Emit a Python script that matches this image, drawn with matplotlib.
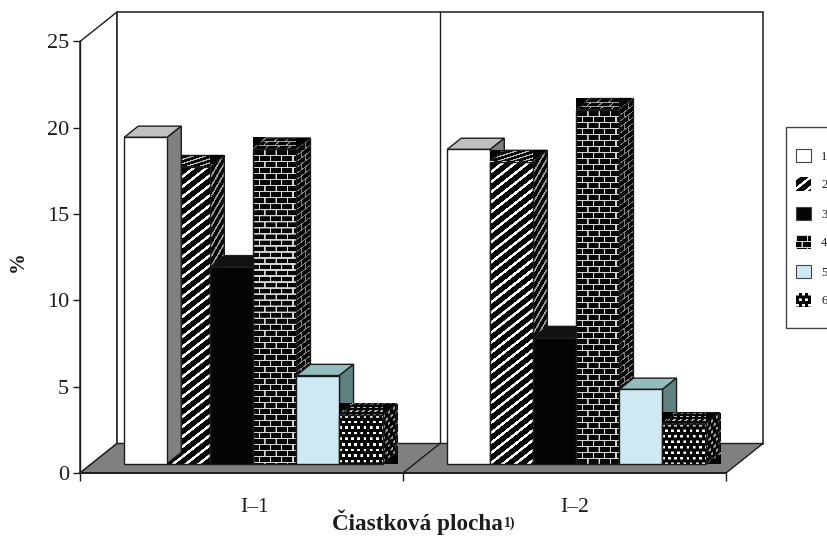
import numpy as np
import matplotlib
matplotlib.use("Agg")
import matplotlib.pyplot as plt
from matplotlib.patches import Polygon, Rectangle, Patch
from matplotlib.image import AxesImage, BboxImage
from matplotlib.transforms import Affine2D, Bbox, TransformedBbox

# ---- data ----
groups = ["I–1", "I–2"]
series = ["1", "2", "3", "4", "5", "6"]
values_i1 = [18.9, 17.2, 11.4, 18.2, 5.1, 2.8]
values_i2 = [18.2, 17.5, 7.3, 20.5, 4.3, 2.3]
y_ticks = [0, 5, 10, 15, 20, 25]
x_label = "Čiastková plocha"
x_label_sup = "1)"
y_label = "%"

# ---- styles ----
patterns = [None, "stripes", None, "brick", None, "dots"]
front_colors = ["#ffffff", "#000000", "#040404", "#000000", "#cfe9f2", "#000000"]
top_colors = ["#c0c0c0", "#000000", "#111111", "#000000", "#93bcbf", "#000000"]
side_colors = ["#808080", "#000000", "#0a0a0a", "#000000", "#5f8280", "#000000"]
draw_orders = [[1, 0, 2, 3, 4, 5], [0, 1, 2, 3, 4, 5]]
FONT = "Liberation Serif"
INK = "#1c1c1c"
W, H = 827, 536

plt.rcParams["font.family"] = FONT
fig = plt.figure(figsize=(W / 100, H / 100), dpi=100, facecolor="white")
L, R, T, B = 80, 726, 41.5, 473
ax = fig.add_axes([L / W, 1 - B / H, (R - L) / W, (B - T) / H])
ax.set_xlim(0, 2)
ax.set_ylim(0, 25)
ax.patch.set_visible(False)

# oblique projection: depth 1 = rear wall
DX = 37 / 323
DY = 29.5 / ((B - T) / 25)
GAP = 0.1
BAR_W = (1 - 2 * GAP) / 6
D0, D1 = 0.32, 0.70


def proj(x, y, d):
    return (x + d * DX, y + d * DY)


def pattern_rgb(kind, w_px, h_px, tint):
    ss = 4
    nx, ny = max(int(round(w_px)) * ss, 4), max(int(round(h_px)) * ss, 4)
    v, u = np.mgrid[0:ny, 0:nx] / ss
    if kind == "stripes":
        m = ((u * 0.8 + v) % 10) < 3.2
        light = 1.0
    elif kind == "brick":
        row = np.floor(v / 6)
        m = ((v % 6) < 1.25) | (((u + 5.5 * (row % 2)) % 11) < 1.25)
        light = 0.84
    else:
        row = np.floor(v / 5.5)
        m = ((v % 5.5) < 2.5) & (((u + 3 * (row % 2)) % 6) < 2.75)
        light = 1.0
    return np.where(m, light * tint, 0.02)[..., None].repeat(3, axis=2)


def px_len(p, q):
    a, b = ax.transData.transform([p, q])
    return float(np.hypot(*(b - a)))


def face(p0, p1, p3, kind, color, tint, z):
    """Parallelogram: p0 corner, p1 along u, p3 along v (v points up)."""
    p0, p1, p3 = np.array(p0), np.array(p1), np.array(p3)
    p2 = p1 + p3 - p0
    if kind:
        arr = pattern_rgb(kind, px_len(p0, p1), px_len(p0, p3), tint)
        im = AxesImage(ax, interpolation="antialiased", origin="upper", extent=(0, 1, 0, 1))
        im.set_data(arr)
        e1, e2 = p1 - p0, p3 - p0
        im.set_transform(Affine2D.from_values(e1[0], e1[1], e2[0], e2[1], p0[0], p0[1]) + ax.transData)
        im.set_zorder(z)
        ax.add_artist(im)
        im.set_clip_on(False)
    ax.add_patch(Polygon([p0, p1, p2, p3], closed=True, facecolor="none" if kind else color,
                         edgecolor=INK, lw=1.0, zorder=z + 0.1, clip_on=False))


# walls and floor
ax.add_patch(Polygon([proj(0, 0, 0), proj(0, 0, 1), proj(0, 25, 1), proj(0, 25, 0)], closed=True,
                     fc="white", ec=INK, lw=1.0, zorder=0.5, clip_on=False))
ax.add_patch(Polygon([proj(0, 0, 1), proj(2, 0, 1), proj(2, 25, 1), proj(0, 25, 1)], closed=True,
                     fc="white", ec=INK, lw=1.1, zorder=0.6, clip_on=False))
ax.plot(*zip(proj(1, 0, 1), proj(1, 25, 1)), color=INK, lw=1.0, zorder=0.7, clip_on=False)
ax.add_patch(Polygon([proj(0, 0, 0), proj(2, 0, 0), proj(2, 0, 1), proj(0, 0, 1)], closed=True,
                     fc="#808080", ec=INK, lw=1.0, zorder=0.8, clip_on=False))
ax.plot(*zip(proj(1, 0, 0), proj(1, 0, 1)), color=INK, lw=1.0, zorder=0.9, clip_on=False)

# bars
z = 3.0
for g, vals in enumerate([values_i1, values_i2]):
    for i in draw_orders[g]:
        x0 = g + GAP + i * BAR_W
        x1 = x0 + BAR_W
        h = vals[i]
        kind = patterns[i]
        face(proj(x0, h, D0), proj(x1, h, D0), proj(x0, h, D1), kind, top_colors[i], 0.75, z)
        face(proj(x1, 0, D0), proj(x1, 0, D1), proj(x1, h, D0), kind, side_colors[i], 0.62, z + 0.2)
        face(proj(x0, 0, D0), proj(x1, 0, D0), proj(x0, h, D0), kind, front_colors[i], 1.0, z + 0.4)
        z += 1

# axes furniture
for s in ("top", "right"):
    ax.spines[s].set_visible(False)
for s, lw in (("left", 1.0), ("bottom", 1.3)):
    ax.spines[s].set_color(INK)
    ax.spines[s].set_linewidth(lw)
    ax.spines[s].set_zorder(100)
ax.set_yticks(y_ticks)
ax.set_xticks([0, 1, 2])
ax.set_xticklabels([])
ax.set_xticks([0.54, 1.53], minor=True)
ax.set_xticklabels(groups, minor=True, fontsize=15.5, color=INK)
ax.tick_params(axis="x", which="major", length=6, width=1, color=INK, direction="out")
ax.tick_params(axis="x", which="minor", length=0, pad=18)
ax.tick_params(axis="y", length=5, width=1, color=INK, labelsize=16, labelcolor=INK, pad=3)

ax.set_ylabel(y_label, fontsize=15, fontweight="bold", color=INK)
ax.yaxis.set_label_coords((28 - L) / (R - L), (B - 262) / (B - T))

t = fig.text(417 / W, 1 - 530 / H, x_label, ha="center", va="baseline",
             fontsize=16.7, fontweight="bold", color=INK)
ax.annotate(x_label_sup, xy=(1, 0), xycoords=t, xytext=(1, 6), textcoords="offset points",
            fontsize=10, fontweight="bold", color=INK, va="baseline", ha="left", annotation_clip=False)


# legend with the same textures as the bars
class TextureHandle(Patch):
    def __init__(self, kind, **kw):
        super().__init__(**kw)
        self.kind = kind


class HandlerTexture:
    def legend_artist(self, legend, orig, fontsize, handlebox):
        w, h = handlebox.width, handlebox.height
        xd, yd = handlebox.xdescent, handlebox.ydescent
        box = TransformedBbox(Bbox([[-xd, -yd], [w - xd, h - yd]]), handlebox.get_transform())
        im = BboxImage(box, interpolation="antialiased", origin="upper")
        scale = fig.dpi / 72
        im.set_data(pattern_rgb(orig.kind, w * scale, h * scale, 1.0))
        handlebox.add_artist(im)
        return im


fig.add_artist(Rectangle((786 / W, 1 - 328 / H), 60 / W, 201 / H, transform=fig.transFigure,
                         fc="white", ec="#444444", lw=1.0))
handles = []
for i, name in enumerate(series):
    if patterns[i]:
        handles.append(TextureHandle(patterns[i], label=name))
    else:
        handles.append(Patch(facecolor=front_colors[i], edgecolor="#444444", lw=0.8, label=name))
leg = fig.legend(handles=handles, handler_map={TextureHandle: HandlerTexture()},
                 loc="center left", bbox_to_anchor=(796 / W, 1 - 228 / H),
                 bbox_transform=fig.transFigure, frameon=False, fontsize=9,
                 borderpad=0, borderaxespad=0, handlelength=1.2, handleheight=1.3,
                 handletextpad=0.8, labelspacing=1.2, labelcolor=INK)
leg.set_zorder(200)

fig.savefig("out.png", dpi=100, facecolor="white")
